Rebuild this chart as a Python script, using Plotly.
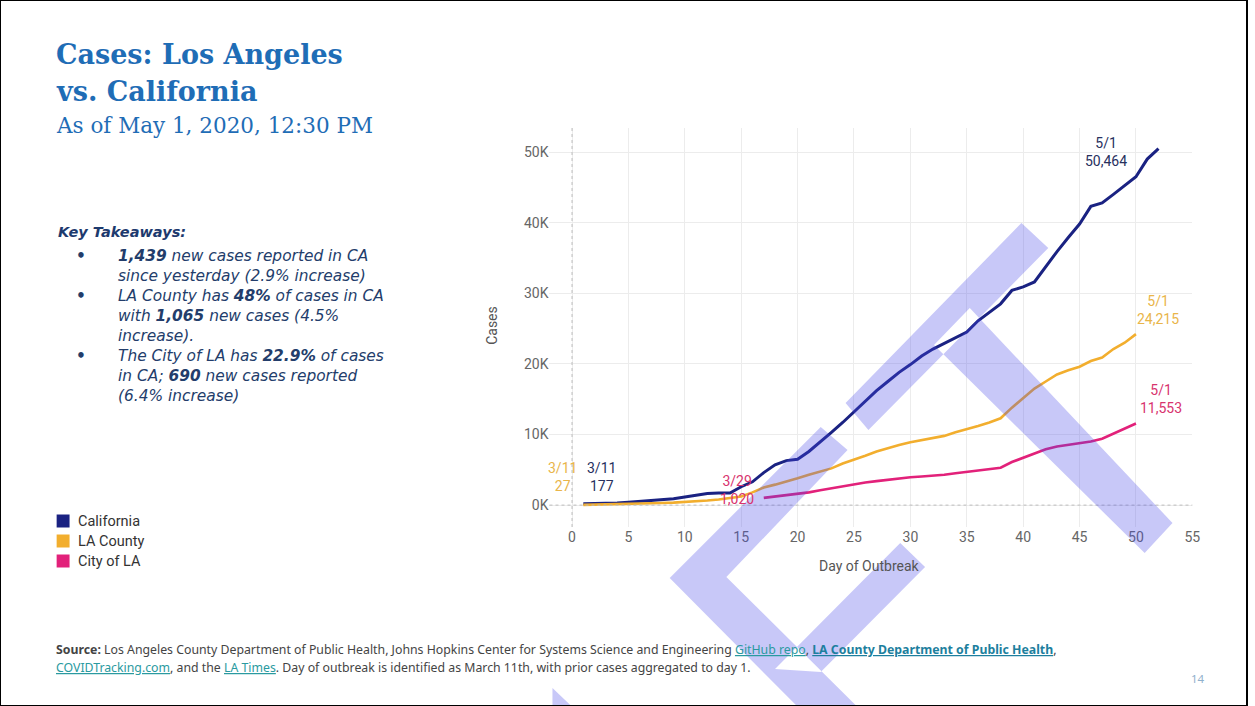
import plotly.graph_objects as go

W, H = 1255, 706

# ---------------- data ----------------
ca_days = list(range(1, 53))
ca_cases = [177, 200, 250, 300, 400, 500, 600, 750, 900, 1150, 1350, 1650, 1700, 1700,
            2600, 3300, 4600, 5700, 6300, 6500, 7600, 8900, 10300, 11700, 13200, 14800,
            16200, 17500, 18800, 19900, 21100, 22100, 22900, 23600, 24500, 26100, 27300,
            28500, 30400, 30900, 31600, 33800, 35900, 37900, 39800, 42300, 42800, 44000,
            45300, 46500, 49000, 50464]

la_days = list(range(1, 51))
la_cases = [27, 50, 80, 100, 150, 190, 230, 290, 350, 420, 500, 660, 800, 1000, 1230,
            1800, 2500, 2900, 3300, 3800, 4300, 4700, 5200, 5900, 6400, 7000, 7600, 8100,
            8500, 8900, 9200, 9400, 9800, 10300, 10700, 11200, 11700, 12300, 13800, 15200,
            16500, 17500, 18500, 19100, 19600, 20400, 20900, 22100, 23000, 24215]

city_days = list(range(17, 51))
city_cases = [1020, 1200, 1350, 1550, 1800, 2100, 2400, 2700, 2950, 3200, 3400, 3600,
              3800, 3950, 4050, 4150, 4300, 4500, 4700, 4850, 5050, 5300, 6100, 6700,
              7400, 7900, 8300, 8500, 8700, 9000, 9400, 10100, 10800, 11553]

series_names = ["California", "LA County", "City of LA"]
start_labels = ["3/11", "3/11", "3/29"]
end_labels = ["5/1", "5/1", "5/1"]

x_ticks = [0, 5, 10, 15, 20, 25, 30, 35, 40, 45, 50, 55]
y_ticks = [0, 10000, 20000, 30000, 40000, 50000]
y_tick_text = ["0K", "10K", "20K", "30K", "40K", "50K"]

takeaway_lines = ["<b>1,439</b> new cases reported in CA",
                  "since yesterday (2.9% increase)",
                  "LA County has <b>48%</b> of cases in CA",
                  "with <b>1,065</b> new cases (4.5%",
                  "increase).",
                  "The City of LA has <b>22.9%</b> of cases",
                  "in CA; <b>690</b> new cases reported",
                  "(6.4% increase)"]
bullet_lines = [0, 2, 5]

# ---------------- styles ----------------
C_CA, C_LA, C_CITY = "#1a2282", "#f2ae2e", "#e2217a"
T_CA, T_LA, T_CITY = "#27305e", "#e9b54a", "#d8336e"
BLUE = "#1f6db6"
NAVY_TXT = "#233d6b"


def px(x):
    return x / W


def py(y):
    return 1 - y / H


fig = go.Figure()
for d, v, c, w, n in [(ca_days, ca_cases, C_CA, 3, series_names[0]),
                      (la_days, la_cases, C_LA, 2.6, series_names[1]),
                      (city_days, city_cases, C_CITY, 2.6, series_names[2])]:
    fig.add_trace(go.Scatter(x=d, y=v, mode="lines", name=n,
                             line=dict(color=c, width=w), showlegend=False,
                             hoverinfo="skip"))

ann = []


def fmt(v):
    return f"{v:,}"


def paper_text(x, y, text, font, xanchor="center", yanchor="middle", **kw):
    d = dict(x=px(x), y=py(y), xref="paper", yref="paper", xanchor=xanchor,
             yanchor=yanchor, text=text, showarrow=False, font=font)
    d.update(kw)
    ann.append(d)


lab_font = dict(family="Roboto", size=14)
# start / end labels anchored to data
for d, v, idx, lbl, col, xs, ys in [
        (ca_days, ca_cases, 0, start_labels[0], T_CA, 18, 27),
        (la_days, la_cases, 0, start_labels[1], T_LA, -21, 28),
        (city_days, city_cases, 0, start_labels[2], T_CITY, -27, 8),
        (ca_days, ca_cases, -1, end_labels[0], T_CA, -53, -3),
        (la_days, la_cases, -1, end_labels[1], T_LA, 22, 24),
        (city_days, city_cases, -1, end_labels[2], T_CITY, 25, 25)]:
    ann.append(dict(x=d[idx], y=v[idx], xref="x", yref="y",
                    text=f"{lbl}<br>{fmt(v[idx])}", showarrow=False,
                    xanchor="center", yanchor="middle",
                    xshift=xs, yshift=ys, font=dict(lab_font, color=col)))

# axis titles
paper_text(495, 325, "Cases", dict(family="Roboto", size=14, color="#555"), textangle=-90)
paper_text(875, 566, "Day of Outbreak", dict(family="Roboto", size=14, color="#555"))

# title block
paper_text(54, 55, "<b>Cases: Los Angeles</b>",
           dict(family="DejaVu Serif", size=27, color=BLUE), xanchor="left")
paper_text(54, 92, "<b>vs. California</b>",
           dict(family="DejaVu Serif", size=27, color=BLUE), xanchor="left")
paper_text(54, 126, "As of May 1, 2020, 12:30 PM",
           dict(family="DejaVu Serif", size=21.5, color=BLUE), xanchor="left")

# key takeaways
paper_text(56, 232, "<b><i>Key Takeaways:</i></b>",
           dict(family="DejaVu Sans", size=14.5, color="#1d3a6e"), xanchor="left")
list_center = 254 + 3.5 * 20.7
paper_text(117, list_center, "<br>".join(f"<i>{t}</i>" for t in takeaway_lines),
           dict(family="DejaVu Sans", size=15.4, color=NAVY_TXT), xanchor="left", align="left")
paper_text(82, list_center,
           "<br>".join("<b>•</b>" if i in bullet_lines else "&nbsp;"
                       for i in range(len(takeaway_lines))),
           dict(family="DejaVu Sans", size=15.4, color=NAVY_TXT))

# legend (manual)
shapes = []
for i, (n, c) in enumerate(zip(series_names, [C_CA, C_LA, C_CITY])):
    yc = 521 + i * 20
    shapes.append(dict(type="rect", xref="paper", yref="paper",
                       x0=px(57), x1=px(70), y0=py(yc + 6.5), y1=py(yc - 6.5),
                       fillcolor=c, line=dict(width=0)))
    paper_text(76, yc, n, dict(family="Roboto", size=14.5, color="#333"), xanchor="left")

# source
link = "color:#2a9aa0"
src1 = ("<b>Source:</b> Los Angeles County Department of Public Health, Johns Hopkins Center for "
        "Systems Science and Engineering "
        f"<span style='{link}'><u>GitHub repo</u></span>, "
        "<span style='color:#1d7f9e'><b><u>LA County Department of Public Health</u></b></span>,")
src2 = (f"<span style='{link}'><u>COVIDTracking.com</u></span>, and the "
        f"<span style='{link}'><u>LA Times</u></span>. Day of outbreak is identified as March 11th, "
        "with prior cases aggregated to day 1.")
for t, yy in [(src1, 649), (src2, 667)]:
    paper_text(54, yy, t, dict(family="Noto Sans", size=12.3, color="#444"), xanchor="left")
paper_text(1206, 678, "14", dict(family="Noto Sans", size=11.5, color="#8fb0cc"))

# dotted zero lines
shapes.append(dict(type="line", xref="x", yref="y domain", x0=0, x1=0, y0=0, y1=1,
                   line=dict(color="#bdbdbd", width=1, dash="dot")))
shapes.append(dict(type="line", xref="x domain", yref="y", x0=0, x1=1, y0=0, y1=0,
                   line=dict(color="#bdbdbd", width=1, dash="dot")))

# watermark (semi-transparent chevrons drawn over the slide)
polys = [
    [(851, 403), (1028, 223), (1055, 248), (874, 430)],
    [(940, 345), (976, 308), (1180, 523), (1152, 553)],
    [(826, 427), (853, 450), (731, 577), (862, 706), (802, 706), (674, 578)],
    [(906, 543), (931, 567), (826, 672), (780, 669)],
    [(556, 688), (575, 706), (556, 706)],
]
path = ""
for p in polys:
    area = sum(p[i][0] * p[(i + 1) % len(p)][1] - p[(i + 1) % len(p)][0] * p[i][1]
               for i in range(len(p)))
    if area < 0:
        p = p[::-1]
    path += "M " + " L ".join(f"{px(a):.5f},{py(b):.5f}" for a, b in p) + " Z "
shapes.append(dict(type="path", xref="paper", yref="paper", path=path,
                   fillcolor="rgb(72,72,232)", opacity=0.3, line=dict(width=0), layer="above"))

# border
shapes.append(dict(type="rect", xref="paper", yref="paper", x0=0, x1=1, y0=0, y1=1,
                   line=dict(color="black", width=2)))

fig.update_layout(
    width=W, height=H, margin=dict(l=0, r=0, t=0, b=0),
    paper_bgcolor="white", plot_bgcolor="white",
    xaxis=dict(domain=[px(553), px(1200)], range=[-2, 55], tickvals=x_ticks,
               showgrid=True, gridcolor="#ececec", gridwidth=1, zeroline=False,
               showline=False, ticks="", tickfont=dict(family="Roboto", size=14, color="#666")),
    yaxis=dict(domain=[py(527), py(128)], range=[-3100, 53400], tickvals=y_ticks,
               ticktext=y_tick_text, showgrid=True, gridcolor="#ececec", gridwidth=1,
               zeroline=False, showline=False, ticks="",
               tickfont=dict(family="Roboto", size=14, color="#666")),
    annotations=ann, shapes=shapes, showlegend=False,
)
fig.write_html("out.html", config={"displayModeBar": False},
               post_script="document.body.style.margin='0';document.body.style.padding='0';"
                           "document.body.style.overflow='hidden';")
